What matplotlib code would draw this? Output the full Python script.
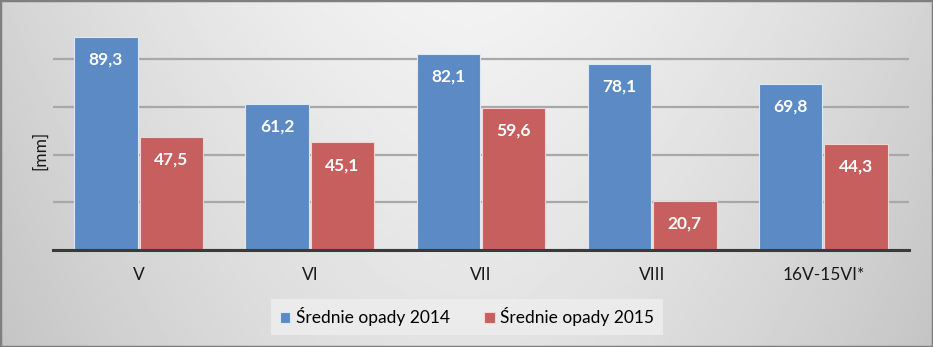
import numpy as np
import matplotlib
matplotlib.use("Agg")
import matplotlib.pyplot as plt
from matplotlib.patches import Rectangle

categories = ["V", "VI", "VII", "VIII", "16V-15VI*"]
opady_2014 = [89.3, 61.2, 82.1, 78.1, 69.8]
opady_2015 = [47.5, 45.1, 59.6, 20.7, 44.3]
series_names = ["Średnie opady 2014", "Średnie opady 2015"]
y_ticks = [0, 20, 40, 60, 80]

plt.rcParams['font.family'] = ['Lato', 'DejaVu Sans']

W, H = 933, 347
fig = plt.figure(figsize=(W / 100, H / 100), dpi=100)

# background gradient
bg = fig.add_axes([0, 0, 1, 1], zorder=-10)
xx = np.linspace(-1, 1, 400)
yy = np.linspace(0, 1, 200)
X, Y = np.meshgrid(xx, yy)
val = 0.95 - 0.12 * np.abs(X) ** 1.6 - 0.06 * Y
bg.imshow(val, cmap='gray', vmin=0, vmax=1, aspect='auto', extent=[0, 1, 0, 1], origin='upper')
bg.set_axis_off()

ax = fig.add_axes([53 / W, 97 / H, 856 / W, 238.5 / H])
ax.patch.set_alpha(0)

x = np.arange(len(categories))
bw = 0.37
gap = 0.012
b1 = ax.bar(x - bw / 2 - gap / 2, opady_2014, bw, color='#5B8AC5', edgecolor='#DCE8F6', linewidth=0.8, zorder=3, label=series_names[0])
b2 = ax.bar(x + bw / 2 + gap / 2, opady_2015, bw, color='#C65F5D', edgecolor='#F2D6D5', linewidth=0.8, zorder=3, label=series_names[1])

for bars, vals in ((b1, opady_2014), (b2, opady_2015)):
    for rect, v in zip(bars, vals):
        ax.text(rect.get_x() + rect.get_width() / 2, v - 9.5, f"{v:.1f}".replace('.', ','),
                ha='center', va='center', color='white', fontsize=12.5, fontweight='bold', zorder=5)

ax.set_xlim(-0.5, len(categories) - 0.5)
ax.set_ylim(0, 100)
ax.set_yticks(y_ticks)
ax.set_yticklabels([])
ax.tick_params(axis='y', length=0)
ax.grid(axis='y', color='#A8A8A8', linewidth=1.6, zorder=1)
ax.set_xticks(x)
ax.set_xticklabels(categories, fontsize=12.5, color='#1A1A1A')
ax.tick_params(axis='x', length=0, pad=12)
for s in ['top', 'right', 'left']:
    ax.spines[s].set_visible(False)
ax.spines['bottom'].set_color('#3A3A3A')
ax.spines['bottom'].set_linewidth(2.2)
ax.spines['bottom'].set_zorder(4)

fig.text(40 / W, 1 - 150 / H, "[mm]", rotation=90, ha='center', va='center', fontsize=12.5, color='#1A1A1A')

leg = fig.legend(handles=[b1, b2], labels=series_names, loc='center', bbox_to_anchor=(467 / W, 1 - 317 / H),
                 ncol=2, fontsize=12.5, frameon=True, handlelength=0.6, handleheight=0.6, handletextpad=0.3,
                 columnspacing=2.0, borderpad=0.5, fancybox=False)
leg.get_frame().set_facecolor('#EDEDED')
leg.get_frame().set_edgecolor('none')
leg.get_frame().set_alpha(0.9)

fig.patches.append(Rectangle((0, 0), 1, 1, transform=fig.transFigure, fill=False,
                             edgecolor='#7F7F7F', linewidth=2.5, zorder=20))

fig.savefig("out.png", dpi=100)
